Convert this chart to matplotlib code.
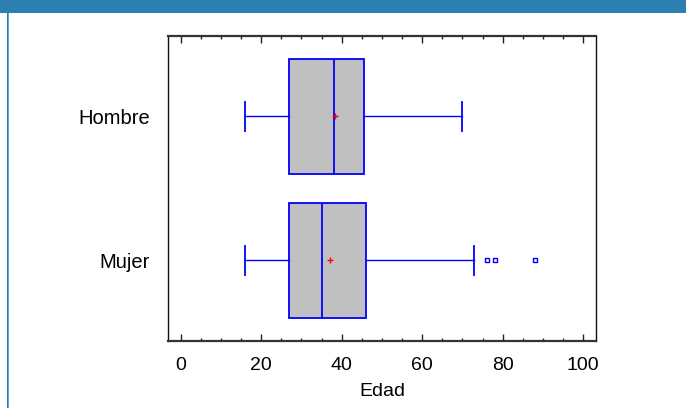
import matplotlib
matplotlib.use("Agg")
import matplotlib.pyplot as plt
from matplotlib.patches import Rectangle
from matplotlib.ticker import MultipleLocator

plt.rcParams["font.family"] = ["Liberation Sans", "DejaVu Sans"]

# Box plot summary (Edad by sex)
groups = ["Mujer", "Hombre"]
whisker_low = [16, 16]
q1 = [27, 27]
medians = [35, 38]
q3 = [46, 45.5]
whisker_high = [73, 70]
means = [37, 38.3]
outliers = [[76, 78, 88], []]

x_ticks = [0, 20, 40, 60, 80, 100]

stats = []
for i, name in enumerate(groups):
    stats.append({
        "label": name,
        "whislo": whisker_low[i],
        "q1": q1[i],
        "med": medians[i],
        "q3": q3[i],
        "whishi": whisker_high[i],
        "mean": means[i],
        "fliers": outliers[i],
    })

fig = plt.figure(figsize=(6.86, 4.08), dpi=100)

# window frame: blue header band and left border
fig.patches.append(Rectangle((0, 1 - 13 / 408), 1, 13 / 408, transform=fig.transFigure,
                             facecolor="#2B80B0", edgecolor="none"))
fig.patches.append(Rectangle((7 / 686, 0), 1 / 686, 1 - 13 / 408, transform=fig.transFigure,
                             facecolor="#2B80B0", edgecolor="none"))
fig.patches.append(Rectangle((8 / 686, 0), 1 / 686, 1 - 13 / 408, transform=fig.transFigure,
                             facecolor="#5FA8D0", edgecolor="none"))

ax = fig.add_axes([168.3 / 686, 1 - 340.7 / 408, (596 - 168.3) / 686, (340.7 - 35.7) / 408])

ax.bxp(stats, positions=[1, 2], widths=0.8, orientation="horizontal", patch_artist=True,
       showmeans=True, capwidths=0.2,
       boxprops=dict(facecolor="#C0C0C0", edgecolor="#0000FF", linewidth=1.3),
       medianprops=dict(color="#0000FF", linewidth=1.3),
       whiskerprops=dict(color="#0000FF", linewidth=1.0),
       capprops=dict(color="#0000FF", linewidth=1.3),
       meanprops=dict(marker="+", markeredgecolor="#FF0000", markersize=5, markeredgewidth=1.0),
       flierprops=dict(marker="s", markerfacecolor="white", markeredgecolor="#0000FF",
                       markersize=3, markeredgewidth=1.0))

ax.set_xlim(-3.1, 103.2)
ax.set_ylim(0.44, 2.56)
ax.xaxis.set_major_locator(MultipleLocator(20))
ax.xaxis.set_minor_locator(MultipleLocator(5))
ax.set_xticks(x_ticks)
ax.set_yticks([1, 2])
ax.set_yticklabels(groups)

ax.tick_params(axis="x", which="major", direction="in", top=True, length=4.8, width=1.0,
               color="#222222", labelsize=14, pad=12)
ax.tick_params(axis="x", which="minor", direction="in", top=True, length=2.4, width=1.0,
               color="#222222")
ax.tick_params(axis="y", length=0, labelsize=14.5, pad=13)

for side in ["top", "bottom"]:
    ax.spines[side].set_linewidth(1.6)
    ax.spines[side].set_color("#333333")
for side in ["left", "right"]:
    ax.spines[side].set_linewidth(1.0)
    ax.spines[side].set_color("#111111")

ax.set_xlabel("Edad", fontsize=14, labelpad=6)

fig.savefig("out.png", dpi=100)
